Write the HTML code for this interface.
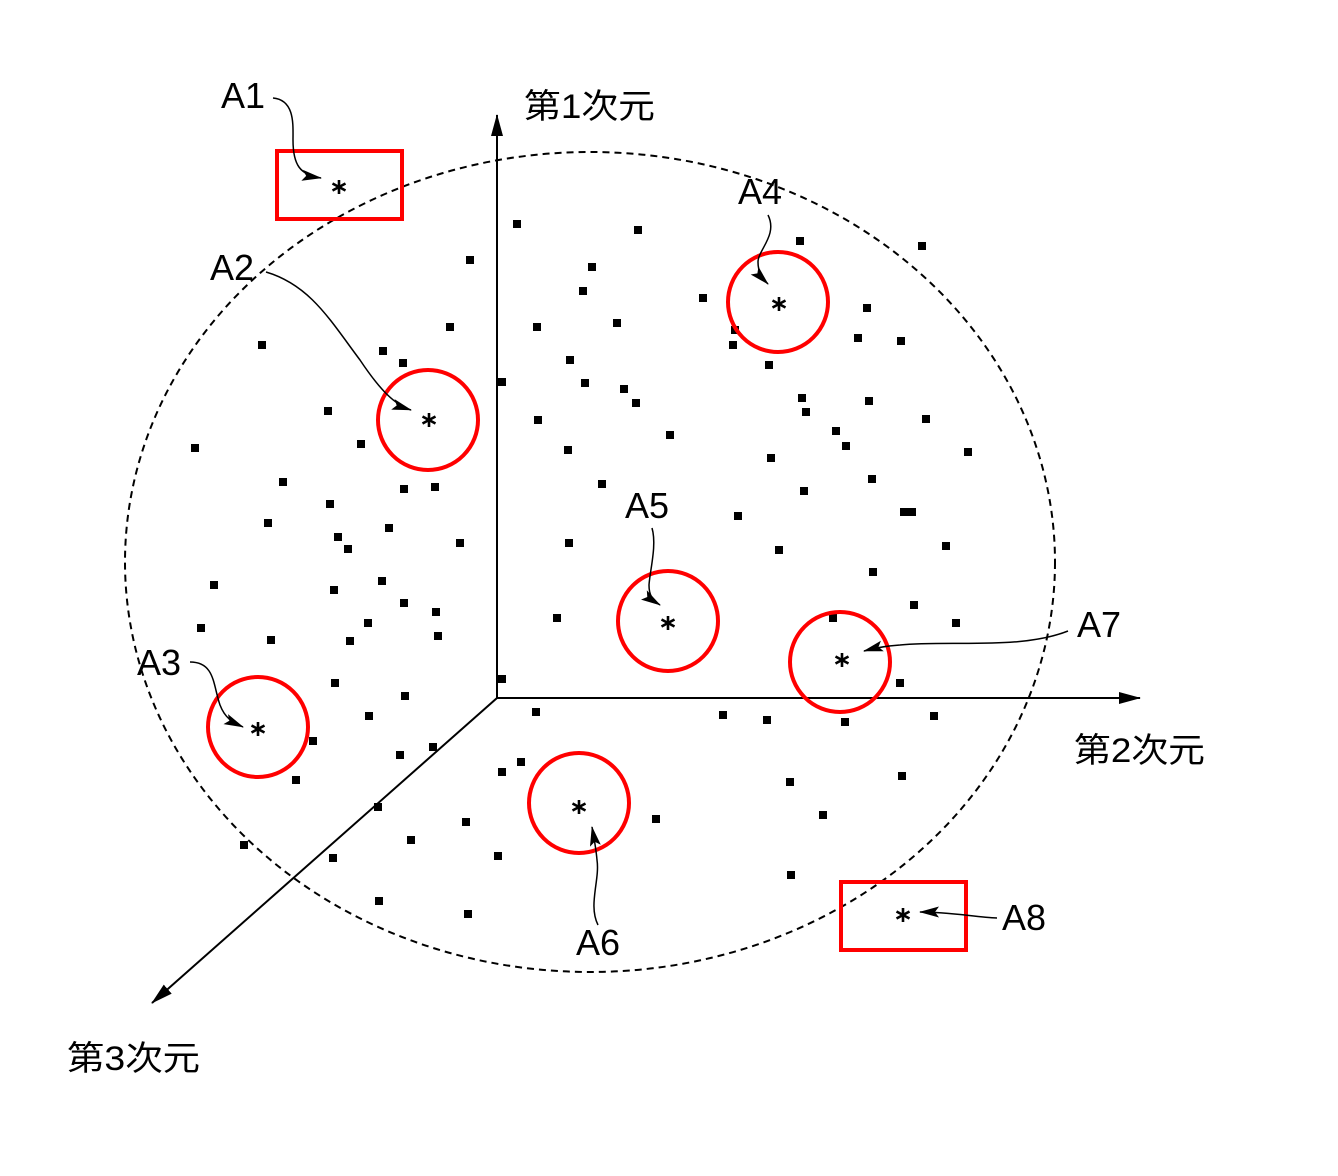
<!DOCTYPE html>
<html><head><meta charset="utf-8"><style>
html,body{margin:0;padding:0;background:#fff;}
svg{display:block;}
text{font-family:"Liberation Sans","Noto Sans CJK JP",sans-serif;fill:#000;}
</style></head><body>
<svg width="1338" height="1176" viewBox="0 0 1338 1176" xmlns="http://www.w3.org/2000/svg">
<defs>
<marker id="ax" markerWidth="22" markerHeight="12" refX="21" refY="6" orient="auto" markerUnits="userSpaceOnUse" viewBox="0 0 22 12"><path d="M0,0 L22,6 L0,12 z" fill="#000"/></marker>
<marker id="sa" markerWidth="20" markerHeight="12" refX="19" refY="6" orient="auto" markerUnits="userSpaceOnUse" viewBox="0 0 20 12"><path d="M0,0.5 L20,6 L0,11.5 L4,6 z" fill="#000"/></marker>
<g id="ast" stroke="#000" stroke-width="2.6" stroke-linecap="butt"><line x1="0" y1="-7" x2="0" y2="7"/><line x1="-6.5" y1="-3.5" x2="6.5" y2="3.5"/><line x1="-6.5" y1="3.5" x2="6.5" y2="-3.5"/></g>
</defs>
<ellipse cx="590" cy="562" rx="465" ry="410" fill="none" stroke="#000" stroke-width="2" stroke-dasharray="7,5"/>
<line x1="497" y1="698" x2="497" y2="115" stroke="#000" stroke-width="2" marker-end="url(#ax)"/>
<line x1="497" y1="698" x2="1140" y2="698" stroke="#000" stroke-width="2" marker-end="url(#ax)"/>
<line x1="497" y1="698" x2="152" y2="1003" stroke="#000" stroke-width="2" marker-end="url(#ax)"/>
<g fill="#000">
<rect x="513" y="220" width="8" height="8"/><rect x="634" y="226" width="8" height="8"/><rect x="796" y="237" width="8" height="8"/><rect x="918" y="242" width="8" height="8"/><rect x="466" y="256" width="8" height="8"/><rect x="588" y="263" width="8" height="8"/><rect x="579" y="287" width="8" height="8"/><rect x="699" y="294" width="8" height="8"/><rect x="863" y="304" width="8" height="8"/><rect x="258" y="341" width="8" height="8"/><rect x="446" y="323" width="8" height="8"/><rect x="533" y="323" width="8" height="8"/><rect x="613" y="319" width="8" height="8"/><rect x="379" y="347" width="8" height="8"/><rect x="399" y="359" width="8" height="8"/><rect x="731" y="326" width="8" height="8"/><rect x="729" y="341" width="8" height="8"/><rect x="854" y="334" width="8" height="8"/><rect x="897" y="337" width="8" height="8"/><rect x="566" y="356" width="8" height="8"/><rect x="498" y="378" width="8" height="8"/><rect x="581" y="379" width="8" height="8"/><rect x="620" y="385" width="8" height="8"/><rect x="632" y="399" width="8" height="8"/><rect x="765" y="361" width="8" height="8"/><rect x="798" y="394" width="8" height="8"/><rect x="865" y="397" width="8" height="8"/><rect x="324" y="407" width="8" height="8"/><rect x="534" y="416" width="8" height="8"/><rect x="802" y="408" width="8" height="8"/><rect x="922" y="415" width="8" height="8"/><rect x="191" y="444" width="8" height="8"/><rect x="357" y="440" width="8" height="8"/><rect x="564" y="446" width="8" height="8"/><rect x="666" y="431" width="8" height="8"/><rect x="832" y="427" width="8" height="8"/><rect x="842" y="442" width="8" height="8"/><rect x="964" y="448" width="8" height="8"/><rect x="767" y="454" width="8" height="8"/><rect x="279" y="478" width="8" height="8"/><rect x="400" y="485" width="8" height="8"/><rect x="431" y="483" width="8" height="8"/><rect x="598" y="480" width="8" height="8"/><rect x="800" y="487" width="8" height="8"/><rect x="868" y="475" width="8" height="8"/><rect x="326" y="500" width="8" height="8"/><rect x="264" y="519" width="8" height="8"/><rect x="385" y="524" width="8" height="8"/><rect x="734" y="512" width="8" height="8"/><rect x="900" y="508" width="8" height="8"/><rect x="908" y="508" width="8" height="8"/><rect x="334" y="533" width="8" height="8"/><rect x="344" y="545" width="8" height="8"/><rect x="456" y="539" width="8" height="8"/><rect x="565" y="539" width="8" height="8"/><rect x="775" y="546" width="8" height="8"/><rect x="942" y="542" width="8" height="8"/><rect x="210" y="581" width="8" height="8"/><rect x="330" y="586" width="8" height="8"/><rect x="378" y="577" width="8" height="8"/><rect x="400" y="599" width="8" height="8"/><rect x="432" y="608" width="8" height="8"/><rect x="869" y="568" width="8" height="8"/><rect x="910" y="601" width="8" height="8"/><rect x="197" y="624" width="8" height="8"/><rect x="364" y="619" width="8" height="8"/><rect x="553" y="614" width="8" height="8"/><rect x="829" y="614" width="8" height="8"/><rect x="952" y="619" width="8" height="8"/><rect x="267" y="636" width="8" height="8"/><rect x="346" y="637" width="8" height="8"/><rect x="434" y="632" width="8" height="8"/><rect x="498" y="675" width="8" height="8"/><rect x="331" y="679" width="8" height="8"/><rect x="401" y="692" width="8" height="8"/><rect x="896" y="679" width="8" height="8"/><rect x="365" y="712" width="8" height="8"/><rect x="532" y="708" width="8" height="8"/><rect x="719" y="711" width="8" height="8"/><rect x="763" y="716" width="8" height="8"/><rect x="841" y="718" width="8" height="8"/><rect x="930" y="712" width="8" height="8"/><rect x="309" y="737" width="8" height="8"/><rect x="396" y="751" width="8" height="8"/><rect x="429" y="743" width="8" height="8"/><rect x="498" y="768" width="8" height="8"/><rect x="517" y="758" width="8" height="8"/><rect x="292" y="776" width="8" height="8"/><rect x="786" y="778" width="8" height="8"/><rect x="898" y="772" width="8" height="8"/><rect x="374" y="803" width="8" height="8"/><rect x="462" y="818" width="8" height="8"/><rect x="652" y="815" width="8" height="8"/><rect x="819" y="811" width="8" height="8"/><rect x="407" y="836" width="8" height="8"/><rect x="494" y="852" width="8" height="8"/><rect x="240" y="841" width="8" height="8"/><rect x="329" y="854" width="8" height="8"/><rect x="787" y="871" width="8" height="8"/><rect x="375" y="897" width="8" height="8"/><rect x="464" y="910" width="8" height="8"/>
</g>
<g fill="none" stroke="#f00" stroke-width="4">
<rect x="277" y="151" width="125" height="68"/>
<rect x="841" y="882" width="125" height="68"/>
<circle cx="428" cy="420" r="50"/>
<circle cx="778" cy="302" r="50"/>
<circle cx="668" cy="621" r="50"/>
<circle cx="840" cy="662" r="50"/>
<circle cx="258" cy="727" r="50"/>
<circle cx="579" cy="803" r="50"/>
</g>
<use href="#ast" x="339" y="187"/>
<use href="#ast" x="903" y="915"/>
<use href="#ast" x="429" y="420"/>
<use href="#ast" x="779" y="304"/>
<use href="#ast" x="668" y="623"/>
<use href="#ast" x="842" y="660"/>
<use href="#ast" x="258" y="729"/>
<use href="#ast" x="579" y="807"/>
<g fill="none" stroke="#000" stroke-width="1.5">
<path d="M273,98 C295,100 293,125 293,140 C293,165 300,175 321,178" marker-end="url(#sa)"/>
<path d="M266,272 C310,285 330,320 360,360 C380,390 395,405 411,410" marker-end="url(#sa)"/>
<path d="M190,662 C215,662 213,685 220,705 C225,718 232,722 243,727" marker-end="url(#sa)"/>
<path d="M768,215 C778,235 758,250 758,262 C758,272 762,278 768,284" marker-end="url(#sa)"/>
<path d="M652,528 C657,545 650,570 649,585 C649,595 652,600 660,605" marker-end="url(#sa)"/>
<path d="M598,925 C588,905 600,880 597,860 C596,848 594,838 592,827" marker-end="url(#sa)"/>
<path d="M1068,631 C1020,650 950,640 900,645 C885,646 875,648 864,651" marker-end="url(#sa)"/>
<path d="M997,918 C975,917 950,912 920,912" marker-end="url(#sa)"/>
</g>
<g font-size="36">
<text x="221" y="108">A1</text>
<text x="210" y="280">A2</text>
<text x="137" y="675">A3</text>
<text x="738" y="204">A4</text>
<text x="625" y="518">A5</text>
<text x="576" y="955">A6</text>
<text x="1077" y="637">A7</text>
<text x="1002" y="930">A8</text>
</g>
<g font-size="34">
<text x="524" y="118" textLength="131" lengthAdjust="spacingAndGlyphs">第1次元</text>
<text x="1074" y="762" textLength="131" lengthAdjust="spacingAndGlyphs">第2次元</text>
<text x="67" y="1070" textLength="133" lengthAdjust="spacingAndGlyphs">第3次元</text>
</g>
</svg>
</body></html>
